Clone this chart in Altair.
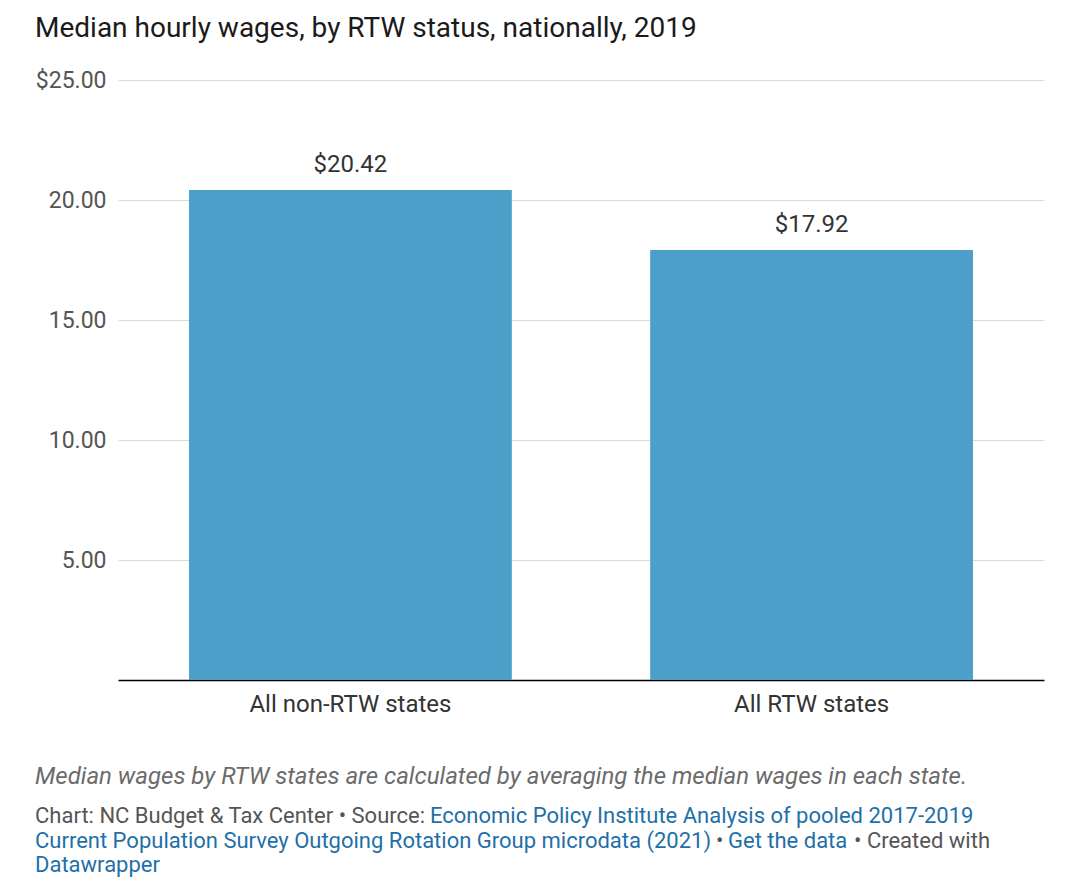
import altair as alt
import pandas as pd

categories = ["All non-RTW states", "All RTW states"]
wages = [20.42, 17.92]
labels = ["$20.42", "$17.92"]
y_ticks = [5, 10, 15, 20, 25]

title_text = "Median hourly wages, by RTW status, nationally, 2019"
note_text = "Median wages by RTW states are calculated by averaging the median wages in each state."
credit_segments = [
    # (text, color, x offset, line y offset)
    ("Chart: NC Budget & Tax Center \u2022 Source: ", "#555555", -83, 736),
    ("Economic Policy Institute Analysis of pooled 2017-2019", "#1f6fa8", 312, 736),
    ("Current Population Survey Outgoing Rotation Group microdata (2021)", "#1f6fa8", -83, 761),
    ("\u2022", "#555555", 598, 761),
    ("Get the data", "#1f6fa8", 610, 761),
    ("\u2022 Created with", "#555555", 736, 761),
    ("Datawrapper", "#1f6fa8", -83, 785),
]

FONT = "Roboto"
df = pd.DataFrame({"cat": categories, "wage": wages, "label": labels})

base = alt.Chart(df)

bars = base.mark_bar(color="#4b9fc8").encode(
    x=alt.X(
        "cat:N",
        sort=categories,
        title=None,
        scale=alt.Scale(paddingInner=0.3, paddingOuter=0.154),
        axis=alt.Axis(
            labelAngle=0,
            labelFontSize=24,
            labelColor="#333333",
            labelFont=FONT,
            labelPadding=12,
            labelLimit=500,
            ticks=False,
            domainColor="#000000",
            domainWidth=1.5,
            grid=False,
        ),
    ),
    y=alt.Y(
        "wage:Q",
        title=None,
        scale=alt.Scale(domain=[0, 25], nice=False),
        axis=alt.Axis(
            values=y_ticks,
            labelExpr="datum.value == 25 ? '$25.00' : format(datum.value, '.2f')",
            labelFontSize=23,
            labelColor="#555555",
            labelFont=FONT,
            labelPadding=12,
            ticks=False,
            domain=False,
            gridColor="#dadada",
            gridWidth=1.2,
        ),
    ),
)

bar_text = base.mark_text(
    baseline="middle", dy=-25, fontSize=24, font=FONT, color="#333333"
).encode(
    x=alt.X("cat:N", sort=categories),
    y="wage:Q",
    text="label:N",
)

layers = [bars, bar_text]

note = alt.Chart(pd.DataFrame({"t": [note_text]})).mark_text(
    align="left", baseline="middle", fontSize=24, fontStyle="italic", font=FONT, color="#6b6b6b"
).encode(text="t:N", x=alt.value(-83), y=alt.value(697))
layers.append(note)

for txt, col, xo, yo in credit_segments:
    layers.append(
        alt.Chart(pd.DataFrame({"t": [txt]})).mark_text(
            align="left", baseline="middle", fontSize=22, font=FONT, color=col
        ).encode(text="t:N", x=alt.value(xo), y=alt.value(yo))
    )

chart = (
    alt.layer(*layers)
    .properties(
        width=926,
        height=600,
        autosize=alt.AutoSizeParams(type="none"),
        padding={"left": 110, "top": 72, "right": 20, "bottom": 204},
        title=alt.TitleParams(
            title_text,
            anchor="start",
            frame="group",
            dx=-83,
            offset=26,
            fontSize=28,
            font=FONT,
            fontWeight="normal",
            color="#1a1a1a",
        ),
    )
    .configure(background="white")
    .configure_view(stroke="transparent", strokeWidth=0)
)

chart.save("out.html", embed_options={"renderer": "svg", "actions": False})
